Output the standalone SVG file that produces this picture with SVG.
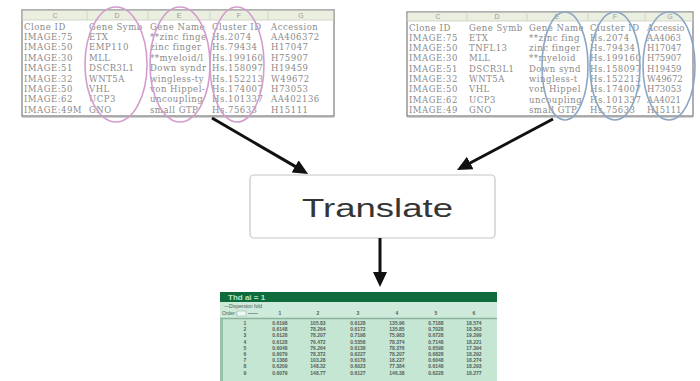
<svg xmlns="http://www.w3.org/2000/svg" width="700" height="381" viewBox="0 0 700 381">
  <style>
    .frame{fill:#fff;stroke:#8e8e8e;stroke-width:1.4}
    .hdr{fill:#eaefdf}
    .sep{stroke:#c9cfc0;stroke-width:0.8}
    .col{font-family:"Liberation Sans",Arial,sans-serif;font-size:7px;fill:#9a9a9a;text-anchor:middle}
    .cell{font-family:"DejaVu Serif","Liberation Serif",serif;font-size:8.5px;letter-spacing:0.5px;fill:#8a8a8a}
    .tight{letter-spacing:0}
    .pink{fill:none;stroke:#d29dcd;stroke-width:1.6}
    .blue{fill:none;stroke:#8ca6c4;stroke-width:1.6}
    .conn{stroke:#111;stroke-width:3;fill:none}
    .box{fill:#fff;stroke:#c6c6c6;stroke-width:1.2}
    .label{font-family:"Liberation Sans",Arial,sans-serif;font-size:25px;fill:#353535}
    .sheet{fill:#c4e6d3}
    .bar{fill:#0e6b3b}
    .ttl{font-family:"Liberation Sans",Arial,sans-serif;font-size:8px;font-weight:bold;fill:#b9e6c6}
    .tiny{font-family:"Liberation Sans",Arial,sans-serif;font-size:5px;fill:#4d5a52}
    .num{font-family:"Liberation Sans",Arial,sans-serif;font-size:5px;font-weight:bold;fill:#56605a;text-anchor:middle}
  </style>
  <defs>
    <marker id="head" viewBox="0 0 15 14" refX="6" refY="7" markerWidth="15" markerHeight="14" markerUnits="userSpaceOnUse" orient="auto">
      <path d="M0,0 L15,7 L0,14 z" fill="#111"/>
    </marker>
    <!-- spreadsheet column clips, left sheet -->
    <clipPath id="lC"><rect x="22" y="20" width="65" height="96"/></clipPath>
    <clipPath id="lD"><rect x="87" y="20" width="61" height="96"/></clipPath>
    <clipPath id="lE"><rect x="148" y="20" width="62" height="96"/></clipPath>
    <clipPath id="lF"><rect x="210" y="20" width="58" height="96"/></clipPath>
    <clipPath id="lG"><rect x="268" y="20" width="66" height="96"/></clipPath>
    <!-- right sheet -->
    <clipPath id="rC"><rect x="407" y="21" width="60" height="95"/></clipPath>
    <clipPath id="rD"><rect x="467" y="21" width="60" height="95"/></clipPath>
    <clipPath id="rE"><rect x="527" y="21" width="61" height="95"/></clipPath>
    <clipPath id="rF"><rect x="588" y="21" width="57" height="95"/></clipPath>
    <clipPath id="rG"><rect x="645" y="21" width="48" height="95"/></clipPath>
  </defs>

  <rect width="700" height="381" fill="#fff"/>

  <!-- left spreadsheet -->
  <g id="sheet-left">
    <rect class="frame" x="22" y="10" width="312" height="106"/>
    <rect class="hdr" x="22.7" y="10.7" width="310.6" height="9.3"/>
    <line class="sep" x1="22" y1="20" x2="334" y2="20"/>
    <line class="sep" x1="87" y1="10" x2="87" y2="20"/>
    <line class="sep" x1="148" y1="10" x2="148" y2="20"/>
    <line class="sep" x1="210" y1="10" x2="210" y2="20"/>
    <line class="sep" x1="268" y1="10" x2="268" y2="20"/>
    <text class="col" x="55" y="17.5">C</text>
    <text class="col" x="117" y="17.5">D</text>
    <text class="col" x="179" y="17.5">E</text>
    <text class="col" x="239" y="17.5">F</text>
    <text class="col" x="301" y="17.5">G</text>
    <g class="cell" clip-path="url(#lC)">
      <text x="24" y="29.5">Clone ID</text>
      <text x="24" y="39.9">IMAGE:75</text>
      <text x="24" y="50.3">IMAGE:50</text>
      <text x="24" y="60.7">IMAGE:30</text>
      <text x="24" y="71.1">IMAGE:51</text>
      <text x="24" y="81.5">IMAGE:32</text>
      <text x="24" y="91.9">IMAGE:50</text>
      <text x="24" y="102.3">IMAGE:62</text>
      <text x="24" y="112.7">IMAGE:49M</text>
    </g>
    <g class="cell" clip-path="url(#lD)">
      <text x="89" y="29.5">Gene Symb</text>
      <text x="89" y="39.9">ETX</text>
      <text x="89" y="50.3">EMP110</text>
      <text x="89" y="60.7">MLL</text>
      <text x="89" y="71.1">DSCR3L1</text>
      <text x="89" y="81.5">WNT5A</text>
      <text x="89" y="91.9">VHL</text>
      <text x="89" y="102.3">UCP3</text>
      <text x="89" y="112.7">GNO</text>
    </g>
    <g class="cell" clip-path="url(#lE)">
      <text x="150" y="29.5">Gene Name</text>
      <text x="150" y="39.9">**zinc finge</text>
      <text x="150" y="50.3">zinc finger</text>
      <text x="150" y="60.7">**myeloid/l</text>
      <text x="150" y="71.1">Down syndr</text>
      <text x="150" y="81.5">wingless-ty</text>
      <text x="150" y="91.9">von Hippel-</text>
      <text x="150" y="102.3">uncoupling</text>
      <text x="150" y="112.7">small GTP</text>
    </g>
    <g class="cell" clip-path="url(#lF)">
      <text x="212" y="29.5">Cluster ID</text>
      <text x="212" y="39.9">Hs.2074</text>
      <text x="212" y="50.3">Hs.79434</text>
      <text x="212" y="60.7">Hs.199160</text>
      <text x="212" y="71.1">Hs.158097</text>
      <text x="212" y="81.5">Hs.152213</text>
      <text x="212" y="91.9">Hs.174007</text>
      <text x="212" y="102.3">Hs.101337</text>
      <text x="212" y="112.7">Hs.75633</text>
    </g>
    <g class="cell" clip-path="url(#lG)">
      <text x="271" y="29.5">Accession</text>
      <text x="271" y="39.9">AA406372</text>
      <text x="271" y="50.3">H17047</text>
      <text x="271" y="60.7">H75907</text>
      <text x="271" y="71.1">H19459</text>
      <text x="271" y="81.5">W49672</text>
      <text x="271" y="91.9">H73053</text>
      <text x="271" y="102.3">AA402136</text>
      <text x="271" y="112.7">H15111</text>
    </g>
    <line x1="22" y1="116.8" x2="334" y2="116.8" stroke="#a5a5a5" stroke-width="1.2"/>
    <ellipse class="pink" cx="116" cy="64.5" rx="31" ry="57.5"/>
    <ellipse class="pink" cx="180" cy="64.5" rx="30" ry="57.5"/>
    <ellipse class="pink" cx="237" cy="64.5" rx="27" ry="57.5"/>
  </g>

  <!-- right spreadsheet -->
  <g id="sheet-right">
    <rect class="frame" x="407" y="12" width="286" height="104"/>
    <rect class="hdr" x="407.7" y="12.7" width="284.6" height="8.3"/>
    <line class="sep" x1="407" y1="21" x2="693" y2="21"/>
    <line class="sep" x1="467" y1="12" x2="467" y2="21"/>
    <line class="sep" x1="527" y1="12" x2="527" y2="21"/>
    <line class="sep" x1="588" y1="12" x2="588" y2="21"/>
    <line class="sep" x1="645" y1="12" x2="645" y2="21"/>
    <text class="col" x="438" y="19">C</text>
    <text class="col" x="497" y="19">D</text>
    <text class="col" x="557" y="19">E</text>
    <text class="col" x="615" y="19">F</text>
    <text class="col" x="670" y="19">G</text>
    <g class="cell" clip-path="url(#rC)">
      <text x="409" y="30.5">Clone ID</text>
      <text x="409" y="40.8">IMAGE:75</text>
      <text x="409" y="51.1">IMAGE:50</text>
      <text x="409" y="61.4">IMAGE:30</text>
      <text x="409" y="71.7">IMAGE:51</text>
      <text x="409" y="82">IMAGE:32</text>
      <text x="409" y="92.3">IMAGE:50</text>
      <text x="409" y="102.6">IMAGE:62</text>
      <text x="409" y="112.9">IMAGE:49</text>
    </g>
    <g class="cell" clip-path="url(#rD)">
      <text x="469" y="30.5">Gene Symb</text>
      <text x="469" y="40.8">ETX</text>
      <text x="469" y="51.1">TNFL13</text>
      <text x="469" y="61.4">MLL</text>
      <text x="469" y="71.7">DSCR3L1</text>
      <text x="469" y="82">WNT5A</text>
      <text x="469" y="92.3">VHL</text>
      <text x="469" y="102.6">UCP3</text>
      <text x="469" y="112.9">GNO</text>
    </g>
    <g class="cell" clip-path="url(#rE)">
      <text x="529" y="30.5">Gene Name</text>
      <text x="529" y="40.8">**zinc fing</text>
      <text x="529" y="51.1">zinc finger</text>
      <text x="529" y="61.4">**myeloid</text>
      <text x="529" y="71.7">Down synd</text>
      <text x="529" y="82">wingless-t</text>
      <text x="529" y="92.3">von Hippel</text>
      <text x="529" y="102.6">uncoupling</text>
      <text x="529" y="112.9">small GTP</text>
    </g>
    <g class="cell" clip-path="url(#rF)">
      <text x="590" y="30.5">Cluster ID</text>
      <text x="590" y="40.8">Hs.2074</text>
      <text x="590" y="51.1">Hs.79434</text>
      <text x="590" y="61.4">Hs.199160</text>
      <text x="590" y="71.7">Hs.158097</text>
      <text x="590" y="82">Hs.152213</text>
      <text x="590" y="92.3">Hs.174007</text>
      <text x="590" y="102.6">Hs.101337</text>
      <text x="590" y="112.9">Hs.75633</text>
    </g>
    <g class="cell tight" clip-path="url(#rG)">
      <text x="647" y="30.5">Accessio</text>
      <text x="647" y="40.8">AA4063</text>
      <text x="647" y="51.1">H17047</text>
      <text x="647" y="61.4">H75907</text>
      <text x="647" y="71.7">H19459</text>
      <text x="647" y="82">W49672</text>
      <text x="647" y="92.3">H73053</text>
      <text x="647" y="102.6">AA4021</text>
      <text x="647" y="112.9">H15111</text>
    </g>
    <line x1="407" y1="116.8" x2="693" y2="116.8" stroke="#a5a5a5" stroke-width="1.2"/>
    <ellipse class="blue" cx="565" cy="66" rx="23" ry="54"/>
    <ellipse class="blue" cx="615" cy="66" rx="25" ry="54"/>
    <ellipse class="blue" cx="669" cy="66" rx="26" ry="54"/>
  </g>

  <!-- process node -->
  <g id="translate">
    <rect class="box" x="250" y="175" width="245" height="63" rx="4"/>
    <text class="label" x="302" y="217" textLength="151" lengthAdjust="spacingAndGlyphs">Translate</text>
  </g>

  <!-- result sheet -->
  <g id="result">
    <rect class="sheet" x="220" y="292" width="277" height="89"/>
    <rect class="bar" x="220" y="292" width="277" height="10"/>
    <text class="ttl" x="228" y="300">Thd ai = 1</text>
    <rect x="220" y="302" width="277" height="16" fill="#cdeadb"/>
    <text class="tiny" x="224" y="308">—Dispersion fold</text>
    <text class="tiny" x="222" y="315">Order:</text>
    <rect x="237" y="311" width="9" height="5" fill="#eef8f2" stroke="#7f9a8a" stroke-width="0.4"/>
    <line x1="248" y1="313.5" x2="258" y2="313.5" stroke="#5d6b63" stroke-width="0.6"/>
    <line x1="220" y1="318.5" x2="497" y2="318.5" stroke="#8db39e" stroke-width="1.5"/>
    <rect x="220" y="319" width="3" height="62" fill="#98c2aa"/>
    <g class="num">
      <text x="280" y="315">1</text><text x="318" y="315">2</text><text x="358" y="315">3</text>
      <text x="397" y="315">4</text><text x="436" y="315">5</text><text x="474" y="315">6</text>
    </g>
    <g class="num">
      <text x="245" y="325">1</text><text x="245" y="331.2">2</text><text x="245" y="337.4">3</text>
      <text x="245" y="343.6">4</text><text x="245" y="349.8">5</text><text x="245" y="356">6</text>
      <text x="245" y="362.2">7</text><text x="245" y="368.4">8</text><text x="245" y="374.6">9</text>
    </g>
    <g class="num">
      <text x="280" y="325">0.6198</text><text x="318" y="325">105.83</text><text x="358" y="325">0.6128</text><text x="397" y="325">135.96</text><text x="436" y="325">0.7188</text><text x="474" y="325">18.574</text>
      <text x="280" y="331.2">0.6148</text><text x="318" y="331.2">78.264</text><text x="358" y="331.2">0.6172</text><text x="397" y="331.2">135.85</text><text x="436" y="331.2">0.7028</text><text x="474" y="331.2">18.363</text>
      <text x="280" y="337.4">0.6128</text><text x="318" y="337.4">78.207</text><text x="358" y="337.4">0.7198</text><text x="397" y="337.4">75.983</text><text x="436" y="337.4">0.6728</text><text x="474" y="337.4">19.299</text>
      <text x="280" y="343.6">0.6128</text><text x="318" y="343.6">76.472</text><text x="358" y="343.6">0.5358</text><text x="397" y="343.6">78.374</text><text x="436" y="343.6">0.7148</text><text x="474" y="343.6">18.221</text>
      <text x="280" y="349.8">0.6048</text><text x="318" y="349.8">76.264</text><text x="358" y="349.8">0.6138</text><text x="397" y="349.8">78.376</text><text x="436" y="349.8">0.6598</text><text x="474" y="349.8">17.394</text>
      <text x="280" y="356">0.6079</text><text x="318" y="356">78.372</text><text x="358" y="356">0.6227</text><text x="397" y="356">78.207</text><text x="436" y="356">0.6828</text><text x="474" y="356">18.292</text>
      <text x="280" y="362.2">0.1388</text><text x="318" y="362.2">103.28</text><text x="358" y="362.2">0.6178</text><text x="397" y="362.2">18.227</text><text x="436" y="362.2">0.6048</text><text x="474" y="362.2">18.274</text>
      <text x="280" y="368.4">0.6209</text><text x="318" y="368.4">148.32</text><text x="358" y="368.4">0.6023</text><text x="397" y="368.4">77.384</text><text x="436" y="368.4">0.6148</text><text x="474" y="368.4">18.293</text>
      <text x="280" y="374.6">0.6079</text><text x="318" y="374.6">148.77</text><text x="358" y="374.6">0.6127</text><text x="397" y="374.6">146.38</text><text x="436" y="374.6">0.6228</text><text x="474" y="374.6">18.277</text>
    </g>
  </g>

  <!-- connectors -->
  <g id="connectors">
    <line class="conn" x1="212" y1="118" x2="300.3" y2="169.4" marker-end="url(#head)"/>
    <line class="conn" x1="553" y1="119" x2="464.9" y2="165.8" marker-end="url(#head)"/>
    <line class="conn" x1="380" y1="238" x2="380" y2="278" marker-end="url(#head)"/>
  </g>
</svg>
